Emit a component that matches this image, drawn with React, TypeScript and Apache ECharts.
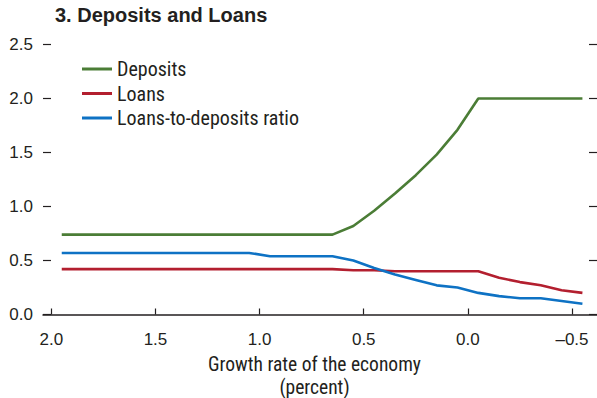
import React, { useEffect, useRef } from "react";
import * as echarts from "echarts";

const growthRates = [
  1.95, 1.85, 1.75, 1.65, 1.55, 1.45, 1.35, 1.25, 1.15, 1.05, 0.95, 0.85, 0.75,
  0.65, 0.55, 0.45, 0.35, 0.25, 0.15, 0.05, -0.05, -0.15, -0.25, -0.35, -0.45,
  -0.55,
];
const deposits = [
  0.74, 0.74, 0.74, 0.74, 0.74, 0.74, 0.74, 0.74, 0.74, 0.74, 0.74, 0.74, 0.74,
  0.74, 0.82, 0.96, 1.12, 1.29, 1.48, 1.71, 2.0, 2.0, 2.0, 2.0, 2.0, 2.0,
];
const loans = [
  0.42, 0.42, 0.42, 0.42, 0.42, 0.42, 0.42, 0.42, 0.42, 0.42, 0.42, 0.42, 0.42,
  0.42, 0.41, 0.41, 0.4, 0.4, 0.4, 0.4, 0.4, 0.34, 0.3, 0.27, 0.225, 0.2,
];
const ratio = [
  0.57, 0.57, 0.57, 0.57, 0.57, 0.57, 0.57, 0.57, 0.57, 0.57, 0.54, 0.54, 0.54,
  0.54, 0.5, 0.43, 0.37, 0.32, 0.27, 0.25, 0.2, 0.17, 0.15, 0.15, 0.125, 0.1,
];
const xTicks = [2.0, 1.5, 1.0, 0.5, 0.0, -0.5];
const seriesNames = ["Deposits", "Loans", "Loans-to-deposits ratio"];
const seriesColors = ["#4b7d36", "#b31f2f", "#0e72c4"];
const title = "3. Deposits and Loans";
const xName = "Growth rate of the economy\n(percent)";

const NARROW = '"Liberation Sans Narrow", "Roboto Condensed", Roboto, sans-serif';
const SANS = '"Liberation Sans", Arial, sans-serif';

export default function App() {
  const ref = useRef<HTMLDivElement>(null);
  useEffect(() => {
    if (!ref.current) return;
    const chart = echarts.init(ref.current, undefined, { renderer: "svg" });
    const allSeries = [deposits, loans, ratio];
    const yAxisBase = {
      type: "value",
      min: 0,
      max: 2.5,
      interval: 0.5,
      splitLine: { show: false },
      axisLine: { show: false, onZero: false },
      axisTick: { show: true, inside: true, length: 8, lineStyle: { color: "#231f20", width: 1.2 } },
    };
    chart.setOption({
      animation: false,
      backgroundColor: "#ffffff",
      title: {
        text: title,
        left: 55,
        top: 5,
        padding: 0,
        textStyle: { fontFamily: SANS, fontSize: 20, fontWeight: "bold", color: "#231f20" },
      },
      legend: {
        orient: "vertical",
        left: 82,
        top: 59,
        padding: 0,
        icon: "rect",
        itemWidth: 30,
        itemHeight: 3,
        itemGap: 4.5,
        textStyle: { fontFamily: NARROW, fontSize: 20, lineHeight: 20, color: "#231f20" },
        data: seriesNames,
      },
      grid: {
        left: 43,
        right: 0,
        top: 44.5,
        bottom: 83.5,
        containLabel: false,
        outerBoundsMode: "none",
      },
      xAxis: {
        type: "value",
        inverse: true,
        min: -0.62,
        max: 2.04,
        name: xName,
        nameLocation: "middle",
        nameGap: 33,
        nameTextStyle: {
          fontFamily: NARROW,
          fontSize: 19.5,
          lineHeight: 23.5,
          color: "#231f20",
          padding: [0, 11, 0, 0],
        },
        splitLine: { show: false },
        axisLine: { show: true, onZero: false, lineStyle: { color: "#231f20", width: 1.5 } },
        axisTick: {
          show: true,
          inside: true,
          length: 6,
          customValues: xTicks,
          lineStyle: { color: "#231f20", width: 1.2 },
        },
        axisLabel: {
          customValues: xTicks,
          margin: 16,
          fontFamily: SANS,
          fontSize: 17,
          color: "#231f20",
          formatter: (v: number) => (v < 0 ? "\u2013" + Math.abs(v).toFixed(1) : v.toFixed(1)),
        },
      },
      yAxis: [
        {
          ...yAxisBase,
          position: "left",
          axisLabel: {
            margin: 10,
            fontFamily: SANS,
            fontSize: 17,
            color: "#231f20",
            formatter: (v: number) => v.toFixed(1),
          },
        },
        {
          ...yAxisBase,
          position: "right",
          axisLabel: { show: false },
        },
      ],
      series: seriesNames.map((name, i) => ({
        name,
        type: "line",
        yAxisIndex: 0,
        symbol: "none",
        color: seriesColors[i],
        lineStyle: { color: seriesColors[i], width: 2.6 },
        data: growthRates.map((x, j) => [x, allSeries[i][j]]),
      })),
    });
    return () => chart.dispose();
  }, []);
  return (
    <div
      ref={ref}
      style={{ position: "fixed", left: 0, top: 0, width: 597, height: 398, background: "#fff" }}
    />
  );
}
